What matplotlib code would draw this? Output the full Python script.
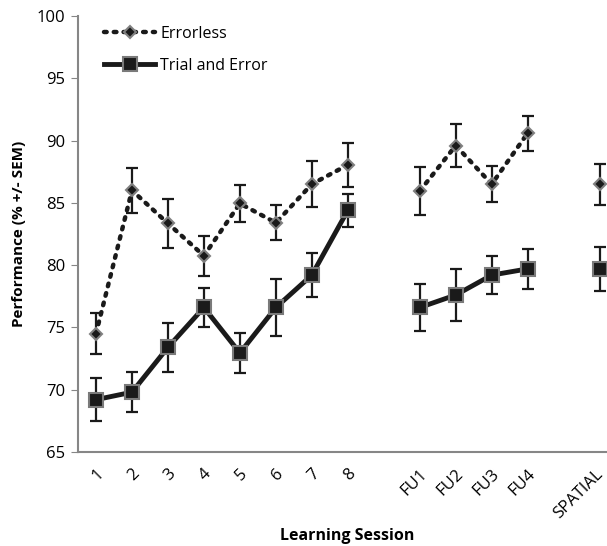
import numpy as np
import matplotlib.pyplot as plt
import matplotlib.transforms as mtransforms

plt.rcParams['font.family'] = ['Open Sans', 'DejaVu Sans']

# categories (empty strings are the gaps between groups)
sessions = ["1", "2", "3", "4", "5", "6", "7", "8", "",
            "FU1", "FU2", "FU3", "FU4", "", "SPATIAL"]

nan = np.nan
errorless = [74.5, 86.0, 83.35, 80.75, 84.95, 83.4, 86.5, 88.05, nan,
             85.95, 89.6, 86.5, 90.6, nan, 86.5]
errorless_sem = [1.65, 1.8, 1.95, 1.6, 1.5, 1.4, 1.85, 1.75, nan,
                 1.9, 1.75, 1.45, 1.4, nan, 1.65]

trial_error = [69.2, 69.8, 73.4, 76.6, 72.95, 76.6, 79.2, 84.4, nan,
               76.6, 77.6, 79.2, 79.7, nan, 79.7]
trial_error_sem = [1.7, 1.6, 1.95, 1.6, 1.6, 2.3, 1.75, 1.3, nan,
                   1.9, 2.1, 1.55, 1.6, nan, 1.75]

x = np.arange(1, len(sessions) + 1)
err_y = np.array(errorless, dtype=float)
tri_y = np.array(trial_error, dtype=float)

fig = plt.figure(figsize=(6.07, 5.46), dpi=100)
ax = fig.add_axes([0.1285, 0.1722, 0.889, 0.7985])

# error bars
ax.errorbar(x, err_y, yerr=errorless_sem, fmt='none', ecolor='#1a1a1a',
            elinewidth=1.6, capsize=4, capthick=1.6, zorder=2)
ax.errorbar(x, tri_y, yerr=trial_error_sem, fmt='none', ecolor='#1a1a1a',
            elinewidth=1.6, capsize=4, capthick=1.6, zorder=2)

# lines with markers (NaN gaps break the lines)
ax.plot(x, err_y, color='#1a1a1a', linestyle=(0, (0.6, 1.6)),
        dash_capstyle='round', linewidth=3.2, marker='D', markersize=6.5,
        markerfacecolor='#1a1a1a', markeredgecolor='#808080',
        markeredgewidth=1.5, label='Errorless', zorder=3)
ax.plot(x, tri_y, color='#1a1a1a', linestyle='-', linewidth=3.5,
        marker='s', markersize=10, markerfacecolor='#1a1a1a',
        markeredgecolor='#7a7a7a', markeredgewidth=1.5,
        label='Trial and Error', zorder=3)

ax.set_xlim(0.5, len(sessions) + 0.5)
ax.set_ylim(65, 100)
ax.set_yticks(np.arange(65, 101, 5))
ax.set_xticks(x)
ax.set_xticklabels(sessions, rotation=45, ha='right', va='center',
                   rotation_mode='anchor', fontsize=12)
ax.tick_params(axis='x', length=0, pad=14)
ax.tick_params(axis='y', direction='out', length=5, color='#868686',
               labelsize=12, pad=4)

# nudge the rotated labels a little to the right, like the original
for lab in ax.get_xticklabels():
    dx = 1 if lab.get_text() == "SPATIAL" else 5
    shift = mtransforms.ScaledTranslation(dx / 100, 0, fig.dpi_scale_trans)
    lab.set_transform(lab.get_transform() + shift)

for side in ['top', 'right']:
    ax.spines[side].set_visible(False)
for side in ['left', 'bottom']:
    ax.spines[side].set_color('#868686')
    ax.spines[side].set_linewidth(1.5)

ax.set_ylabel('Performance (% +/- SEM)', fontsize=11, fontweight='bold',
              labelpad=8)
fig.text(347 / 607, 1 - 536 / 546, 'Learning Session', fontsize=11.5,
         fontweight='bold', ha='center', va='center')

ax.legend(loc='upper left', bbox_to_anchor=(0.022, 1.01), frameon=False,
          fontsize=11.5, handlelength=3.2, handletextpad=0.3,
          labelspacing=1.0)

fig.savefig('out.png', dpi=100)
